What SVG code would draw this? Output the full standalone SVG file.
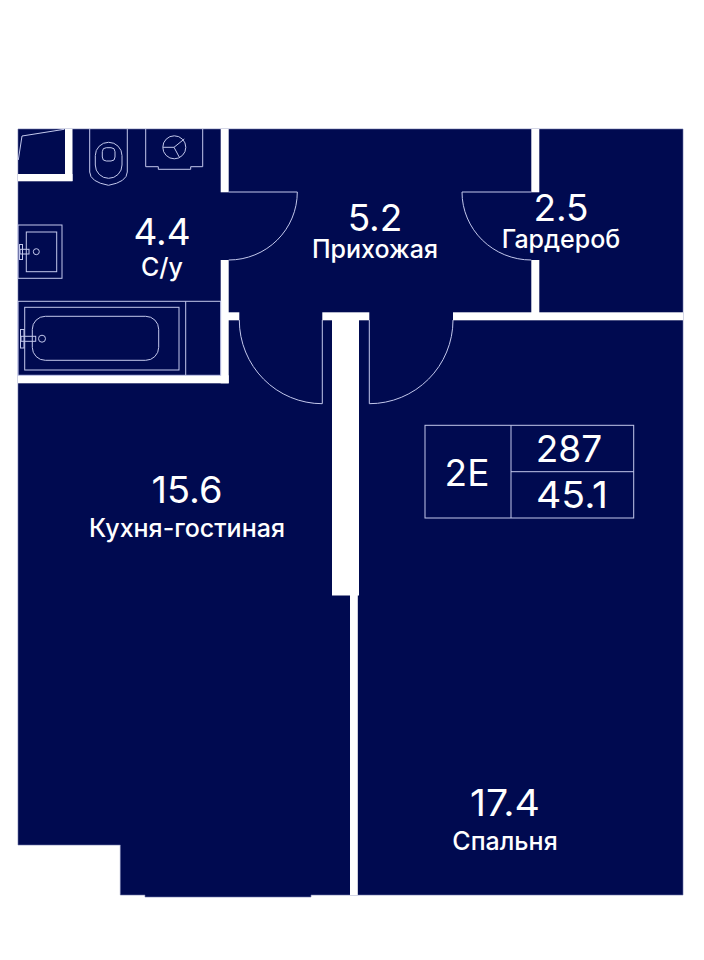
<svg xmlns="http://www.w3.org/2000/svg" width="704" height="960" viewBox="0 0 704 960">
<style>
.w{fill:#fff}
.l{fill:none;stroke:#c3c8ec;stroke-width:1}
.t{fill:#fff;font-family:"Inter","Noto Sans",sans-serif;text-anchor:middle;font-weight:500}
.n{font-size:37px;font-weight:400}
.c{font-size:25px;font-weight:450}
</style>
<rect width="704" height="960" fill="#fff"/>
<g id="plan">
<path d="M18 129H683V895H358V895H311V897H145V895H120.300V845H18Z" fill="#000a50" stroke="#6d73a8" stroke-width=".6"/>
</g>
<g id="walls">
<rect class="w" x="65" y="129" width="7.500" height="52"/>
<rect class="w" x="18" y="174" width="54.500" height="7.300"/>
<rect class="w" x="220.700" y="129" width="8" height="63.300"/>
<rect class="w" x="220.700" y="260" width="8" height="123.300"/>
<rect class="w" x="18" y="375.300" width="210.700" height="8"/>
<rect class="w" x="228" y="312.300" width="11.300" height="8"/>
<rect class="w" x="322.300" y="312.300" width="47" height="8"/>
<rect class="w" x="332" y="320" width="27" height="275.500"/>
<rect class="w" x="350" y="595" width="7.800" height="300"/>
<rect class="w" x="453" y="312.300" width="230" height="8"/>
<rect class="w" x="531.300" y="129" width="8" height="63.300"/>
<rect class="w" x="531.300" y="260" width="8" height="53"/>
</g>
<g id="doors">
<path class="l" d="M228.700 192H297.300A68.600 68 0 0 1 228.700 260"/>
<path class="l" d="M531.300 192H462A69.300 68 0 0 0 531.300 260"/>
<path class="l" d="M239.300 320A83 83.700 0 0 0 322.300 403.700V320"/>
<path class="l" d="M453 320A83.700 83.700 0 0 1 369.300 403.700V320"/>
</g>
<g id="closet"><path class="l" d="M18.300 160L22 136L64.300 129.300"/></g>
<g id="toilet">
<path class="l" d="M89.700 129V172Q90 182 108.500 185.300Q127 182 127.300 172V129"/>
<rect class="l" x="95.300" y="142.300" width="26.700" height="36" rx="13.300"/>
<rect class="l" x="102.300" y="147.700" width="12.700" height="13.300" rx="4"/>
</g>
<g id="washer">
<path class="l" d="M145.700 129V166.700H158.300V169.300H190.700V166.700H202.700V129"/>
<circle class="l" cx="174.300" cy="147.300" r="11.500"/>
<path class="l" d="M163 147.300H174L184.300 139M174 147.300L179.500 157.500"/>
</g>
<g id="sink">
<rect class="l" x="18" y="225" width="44" height="53.300"/>
<rect class="l" x="26.300" y="232" width="30.400" height="39.700"/>
<rect class="l" x="20" y="249.300" width="9" height="4.700"/>
<rect class="l" x="19.500" y="244.500" width="3" height="15"/>
<circle class="l" cx="36.300" cy="251.700" r="3"/>
</g>
<g id="bath">
<rect class="l" x="18" y="301.300" width="202.700" height="74"/>
<path class="l" d="M185.700 301.300V375.300"/>
<rect class="l" x="24.700" y="307.300" width="154.300" height="62.700"/>
<rect class="l" x="32.300" y="316.300" width="126.400" height="44" rx="13"/>
<rect class="l" x="21" y="336.300" width="14.700" height="5"/>
<rect class="l" x="20.500" y="329.500" width="3.500" height="18.500"/>
<circle class="l" cx="42" cy="338.700" r="3.500"/>
</g>
<g id="room-bath"><text class="t n" x="162" y="245">4.4</text><text class="t c" x="162" y="276">С/у</text></g>
<g id="room-hall"><text class="t n" x="375" y="231">5.2</text><text class="t c" x="375" y="257.500">Прихожая</text></g>
<g id="room-wardrobe"><text class="t n" x="561" y="221">2.5</text><text class="t c" x="561" y="247.500">Гардероб</text></g>
<g id="room-kitchen"><text class="t n" x="187" y="503" textLength="71" lengthAdjust="spacingAndGlyphs">15.6</text><text class="t c" x="187" y="536.500">Кухня-гостиная</text></g>
<g id="room-bed"><text class="t n" x="505" y="816" textLength="70" lengthAdjust="spacingAndGlyphs">17.4</text><text class="t c" x="505" y="849.500">Спальня</text></g>
<g id="info">
<rect class="l" x="425" y="425.300" width="208.700" height="92.700"/>
<path class="l" d="M511 425.300V518M511 471.700H633.700"/>
<text class="t n" x="467" y="486">2E</text>
<text class="t n" x="569" y="461.700">287</text>
<text class="t n" x="572" y="508" textLength="72" lengthAdjust="spacingAndGlyphs">45.1</text>
</g>
</svg>
